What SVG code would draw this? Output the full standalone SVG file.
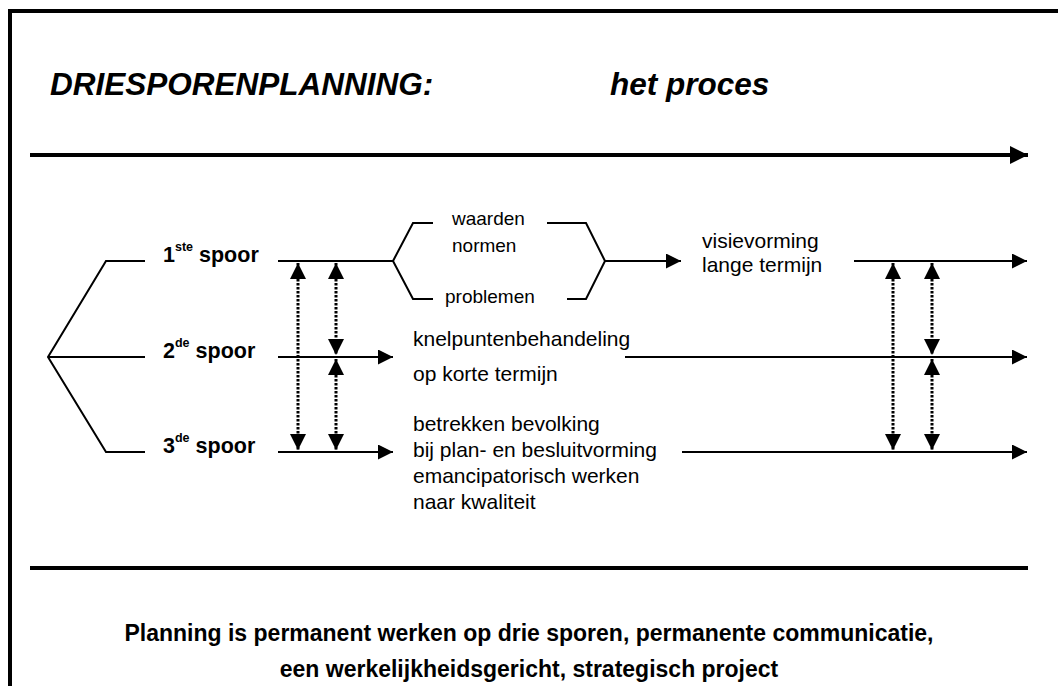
<svg xmlns="http://www.w3.org/2000/svg" width="1058" height="686" viewBox="0 0 1058 686">
<style>
.ln{fill:none;stroke:#000;stroke-width:2}
.thick{fill:none;stroke:#000;stroke-width:4}
.dot{fill:none;stroke:#000;stroke-width:3;stroke-dasharray:2.5 1.5}
.t{font-family:"Liberation Sans",Arial,sans-serif;fill:#000}
.title{font-size:31.5px;font-weight:bold;font-style:italic}
.lbl{font-size:21.5px;font-weight:bold}
.sup{font-size:12.5px;font-weight:bold}
.txt{font-size:19px}
.txt2{font-size:21px}
.foot{font-size:23px;font-weight:bold}
</style>
<defs>
<marker id="ah" viewBox="0 0 10 10" refX="10" refY="5" markerWidth="15" markerHeight="15" markerUnits="userSpaceOnUse" orient="auto"><path d="M0,0 L10,5 L0,10 Z" fill="#000"/></marker>
<marker id="ahs" viewBox="0 0 10 10" refX="10" refY="5" markerWidth="16" markerHeight="16" markerUnits="userSpaceOnUse" orient="auto-start-reverse"><path d="M0,0 L10,5 L0,10 Z" fill="#000"/></marker>
<marker id="big" viewBox="0 0 10 10" refX="10" refY="5" markerWidth="18" markerHeight="18" markerUnits="userSpaceOnUse" orient="auto"><path d="M0,0 L10,5 L0,10 Z" fill="#000"/></marker>
</defs>
<rect width="1058" height="686" fill="#fff"/>
<path class="thick" d="M10,686 V11 H1058"/>
<g id="title">
<text class="t title" x="50" y="95">DRIESPORENPLANNING:</text>
<text class="t title" x="610" y="95">het proces</text>
</g>
<g id="labels">
<text class="t lbl" x="163" y="262">1<tspan class="sup" dy="-11">ste</tspan><tspan dy="11"> spoor</tspan></text>
<text class="t lbl" x="163" y="358">2<tspan class="sup" dy="-11">de</tspan><tspan dy="11"> spoor</tspan></text>
<text class="t lbl" x="163" y="453">3<tspan class="sup" dy="-11">de</tspan><tspan dy="11"> spoor</tspan></text>
</g>
<g id="spoor1">
<text class="t txt" x="452" y="225">waarden</text>
<text class="t txt" x="452" y="252">normen</text>
<text class="t txt" x="445" y="303">problemen</text>
<text class="t txt2" x="702" y="248">visievorming</text>
<text class="t txt2" x="702" y="272">lange termijn</text>
</g>
<g id="spoor2">
<text class="t txt2" x="413" y="346">knelpuntenbehandeling</text>
<text class="t txt2" x="413" y="381">op korte termijn</text>
</g>
<g id="spoor3">
<text class="t txt2" x="413" y="431">betrekken bevolking</text>
<text class="t txt2" x="413" y="457">bij plan- en besluitvorming</text>
<text class="t txt2" x="413" y="483">emancipatorisch werken</text>
<text class="t txt2" x="413" y="509">naar kwaliteit</text>
</g>
<g id="footer">
<text class="t foot" x="529" y="641" text-anchor="middle">Planning is permanent werken op drie sporen, permanente communicatie,</text>
<text class="t foot" x="529" y="677" text-anchor="middle">een werkelijkheidsgericht, strategisch project</text>
</g>
<g id="connectors">
<line class="thick" x1="30" y1="155" x2="1028" y2="155" marker-end="url(#big)"/>
<line class="thick" x1="30" y1="568" x2="1028" y2="568"/>
<path class="ln" d="M145,261 H106 L48,357 L106,452 H145 M48,357 H145"/>
<line class="ln" x1="278" y1="261" x2="393" y2="261"/>
<line class="ln" x1="278" y1="357" x2="393" y2="357" marker-end="url(#ah)"/>
<line class="ln" x1="278" y1="452" x2="393" y2="452" marker-end="url(#ah)"/>
<path class="ln" d="M433,223 H413 L393,261 L413,299 H433"/>
<path class="ln" d="M547,223 H586 L605,261 L586,299 H567"/>
<line class="ln" x1="605" y1="261" x2="681" y2="261" marker-end="url(#ah)"/>
<line class="ln" x1="854" y1="261" x2="1027" y2="261" marker-end="url(#ah)"/>
<line class="ln" x1="625" y1="357" x2="1027" y2="357" marker-end="url(#ah)"/>
<line class="ln" x1="682" y1="452" x2="1027" y2="452" marker-end="url(#ah)"/>
<line class="dot" x1="298" y1="263" x2="298" y2="450" marker-start="url(#ahs)" marker-end="url(#ahs)"/>
<line class="dot" x1="336" y1="263" x2="336" y2="355" marker-start="url(#ahs)" marker-end="url(#ahs)"/>
<line class="dot" x1="336" y1="359" x2="336" y2="450" marker-start="url(#ahs)" marker-end="url(#ahs)"/>
<line class="dot" x1="893" y1="263" x2="893" y2="450" marker-start="url(#ahs)" marker-end="url(#ahs)"/>
<line class="dot" x1="932" y1="263" x2="932" y2="355" marker-start="url(#ahs)" marker-end="url(#ahs)"/>
<line class="dot" x1="932" y1="359" x2="932" y2="450" marker-start="url(#ahs)" marker-end="url(#ahs)"/>
</g>
</svg>
